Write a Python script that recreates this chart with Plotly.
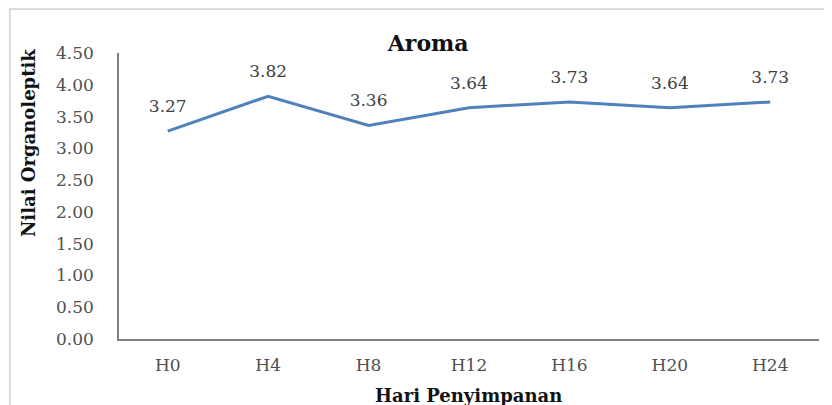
import plotly.graph_objs as go

hari = ['H0', 'H4', 'H8', 'H12', 'H16', 'H20', 'H24']
nilai = [3.27, 3.82, 3.36, 3.64, 3.73, 3.64, 3.73]
label = ['3.27', '3.82', '3.36', '3.64', '3.73', '3.64', '3.73']
y_ticks = [0, 0.5, 1, 1.5, 2, 2.5, 3, 3.5, 4, 4.5]

huruf = 'DejaVu Serif'

fig = go.Figure()
fig.add_trace(go.Scatter(x=hari, y=nilai, mode='lines+markers+text', text=label,
                         textposition='top center',
                         textfont=dict(family=huruf, size=17, color='#404040'),
                         marker=dict(size=22, color='rgba(0,0,0,0)'),
                         line=dict(color='#4F81BD', width=3), cliponaxis=False))

fig.update_layout(
    width=832, height=405,
    margin=dict(l=111, r=21, t=45, b=74),
    paper_bgcolor='white', plot_bgcolor='white',
    showlegend=False,
    font=dict(family=huruf, size=17, color='#505050'),
    title=dict(text='<b>Aroma</b>', x=0.505, xanchor='center', y=0.914, yanchor='middle',
               font=dict(family=huruf, size=22, color='#111111')),
)
fig.update_xaxes(showline=True, linecolor='#808080', linewidth=1.5, showgrid=False,
                 ticks='', automargin=False, ticklabelstandoff=10)
fig.update_yaxes(range=[0, 4.5], tickvals=y_ticks, tickformat='.2f', showline=True,
                 linecolor='#808080', linewidth=1.5, showgrid=False, ticks='',
                 zeroline=False, automargin=False, ticklabelstandoff=20)

# judul sumbu
fig.add_annotation(text='<b>Hari Penyimpanan</b>', xref='paper', yref='paper',
                   x=0.499, y=-0.196, showarrow=False, xanchor='center', yanchor='middle',
                   font=dict(family=huruf, size=18, color='#111111'))
fig.add_annotation(text='<b>Nilai Organoleptik</b>', xref='paper', yref='paper',
                   x=-0.13, y=0.685, showarrow=False, textangle=-90,
                   xanchor='center', yanchor='middle',
                   font=dict(family=huruf, size=18, color='#111111'))

# bingkai grafik
fig.add_shape(type='rect', xref='paper', yref='paper', x0=-0.156, x1=1.009, y0=-0.35, y1=1.154,
              line=dict(color='#D0D0D0', width=1.5))

fig.write_html("out.html")
